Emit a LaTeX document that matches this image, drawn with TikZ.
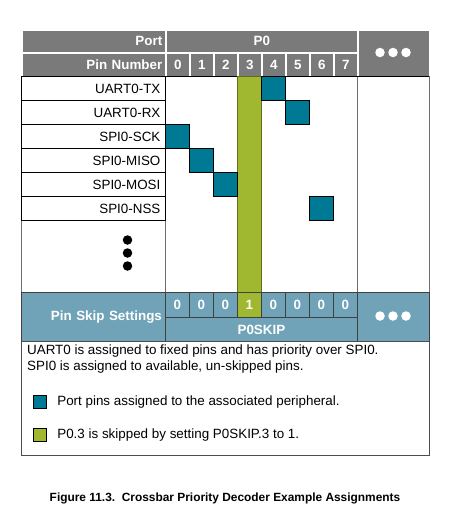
\documentclass[tikz,border=0pt]{standalone}
\usepackage{fontspec}
\setmainfont{Liberation Sans}
\usetikzlibrary{positioning}
\definecolor{hdrgray}{RGB}{122,122,122}
\definecolor{pinteal}{RGB}{0,122,148}
\definecolor{skipgreen}{RGB}{160,184,48}
\definecolor{skipblue}{RGB}{112,163,184}
\definecolor{edgegray}{RGB}{110,110,110}
\tikzset{%
  font=\fontsize{13.4}{16}\selectfont,
  hdr/.style={rectangle,fill=hdrgray,draw=white,line width=1.6pt,text=white,
    font=\fontsize{13.4}{16}\selectfont\bfseries,inner sep=0pt,anchor=north west},
  lbl/.style={rectangle,draw=black,line width=0.8pt,minimum width=144pt,minimum height=24pt,
    text width=134pt,align=right,inner sep=3pt,anchor=north west},
  asg/.style={rectangle,fill=pinteal,draw=black,line width=0.8pt,minimum width=24pt,
    minimum height=24pt,inner sep=0pt,anchor=north west},
  skp/.style={rectangle,fill=skipblue,draw=black!75,line width=0.8pt,text=white,
    font=\fontsize{13.4}{16}\selectfont\bfseries,inner sep=0pt,anchor=north west},
  bullet/.style={circle,fill=#1,draw=none,minimum size=9.5pt,inner sep=0pt},
  key/.style={rectangle,draw=black,line width=0.8pt,minimum size=13pt,inner sep=0pt,anchor=north west}
}
\begin{document}
\begin{tikzpicture}[x=1pt,y=-1pt]
	\useasboundingbox (0,0) rectangle (452,525);
	% header rows
	\node[hdr,minimum width=144pt,minimum height=23pt,text width=137pt,align=right] (port) at (21,29) {Port};
	\node[hdr,minimum width=192pt,minimum height=23pt] (pzero) at (165,29) {P0};
	\node[hdr,minimum width=72pt,minimum height=47pt] (more) at (357,29) {};
	\node[hdr,minimum width=144pt,minimum height=24pt,text width=137pt,align=right] (pinnum) at (21,52) {Pin Number};
	\foreach \i in {0,...,7}
		\node[hdr,minimum width=24pt,minimum height=24pt] (n\i) at (165+24*\i,52) {\i};
	\foreach \k in {0,1,2}
		\node[bullet=white] (md\k) at (380+13*\k,52.5) {};
	
	% body
	\draw[edgegray,line width=0.8pt] (21,76) -- (21,292) (165,76) -- (165,292)
		(357,76) -- (357,292) (429,76) -- (429,292);
	\draw[black,line width=0.8pt] (165,76) -- (429,76);
	\node[rectangle,fill=skipgreen,draw=skipgreen!60!black,line width=0.8pt,minimum width=24pt,
		minimum height=216pt,inner sep=0pt,anchor=north west] (skipbar) at (237,76) {};
	\foreach \name/\k/\c in {UART0-TX/0/4,UART0-RX/1/5,SPI0-SCK/2/0,SPI0-MISO/3/1,SPI0-MOSI/4/2,SPI0-NSS/5/6}{
		\node[lbl] (l\k) at (21,76+24*\k) {\name};
		\node[asg] (a\k) at (165+24*\c,76+24*\k) {};
	}
	\foreach \k in {0,1,2}
		\node[bullet=black] (vd\k) at (127.5,240+13*\k) {};
	
	% pin skip settings
	\node[skp,minimum width=144pt,minimum height=49pt,text width=137pt,align=right] (pss) at (21,292) {Pin Skip Settings};
	\foreach \i/\v in {0/0,1/0,2/0,3/1,4/0,5/0,6/0,7/0}
		\node[skp,minimum width=24pt,minimum height=25pt] (s\i) at (165+24*\i,292) {\v};
	\node[skp,fill=skipgreen,minimum width=24pt,minimum height=25pt] (sone) at (237,292) {1};
	\node[skp,minimum width=192pt,minimum height=24pt] (pskip) at (165,317) {P0SKIP};
	\node[skp,minimum width=72pt,minimum height=49pt] (smore) at (357,292) {};
	\foreach \k in {0,1,2}
		\node[bullet=white] (sd\k) at (380+13*\k,316) {};
	
	% notes
	\node[rectangle,draw=edgegray!70!black,line width=0.8pt,minimum width=408pt,minimum height=114pt,
		inner sep=0pt,anchor=north west] (notes) at (21,341) {};
	\node[anchor=north west,align=left,inner sep=0pt] (txt) at (27,345)
		{UART0 is assigned to fixed pins and has priority over SPI0.\\SPI0 is assigned to available, un-skipped pins.};
	\node[key,fill=pinteal] (kteal) at (33,395) {};
	\node[right=7pt of kteal] (tteal) {Port pins assigned to the associated peripheral.};
	\node[key,fill=skipgreen] (kgreen) at (33,428) {};
	\node[right=7pt of kgreen] (tgreen) {P0.3 is skipped by setting P0SKIP.3 to 1.};
	
	% caption
	\node[font=\fontsize{11.9}{14}\selectfont\bfseries] (cap) at (225,498)
		{Figure 11.3.\ \ Crossbar Priority Decoder Example Assignments};
\end{tikzpicture}
\end{document}
